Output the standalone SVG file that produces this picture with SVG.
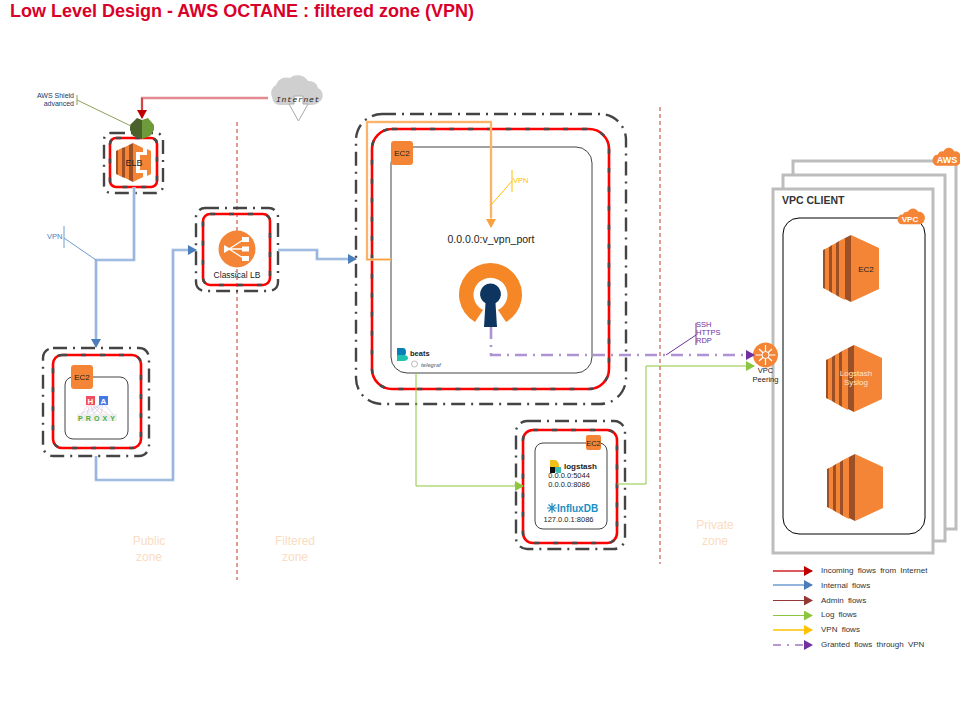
<svg xmlns="http://www.w3.org/2000/svg" xmlns:xlink="http://www.w3.org/1999/xlink" width="960" height="720" viewBox="0 0 960 720">
<style>
text{font-family:"Liberation Sans",Arial,sans-serif;fill:#222}
.outer{fill:none;stroke:#444;stroke-width:2.4;stroke-dasharray:14 6 2 6}
.red{fill:none;stroke:#f00;stroke-width:2.6}
.redd{fill:none;stroke:#4a4a4a;stroke-width:2.6;stroke-dasharray:5 14}
.inner{fill:#fff;stroke:#444;stroke-width:1}
.badge{fill:#f58536}
.c{text-anchor:middle}
.zone{font-size:12px;fill:#fbdcc0;text-anchor:middle}
.leg{font-size:8px;word-spacing:2px;fill:#333}
.sep{stroke:#c0392b;stroke-width:1;stroke-dasharray:4 3;fill:none}
.blue{fill:none;stroke:#7ea3d6;stroke-width:2}
.blue2{fill:none;stroke:#c4d5ec;stroke-width:3.2}
.vpc{fill:#fff;stroke:#bdbdbd;stroke-width:3}
</style>
<defs>
<marker id="aRed" markerUnits="userSpaceOnUse" markerWidth="10" markerHeight="10" refX="8" refY="5" orient="auto"><path d="M0 0L9 5L0 10z" fill="#c00000"/></marker>
<marker id="aBlue" markerUnits="userSpaceOnUse" markerWidth="10" markerHeight="10" refX="8" refY="5" orient="auto"><path d="M0 0L9 5L0 10z" fill="#4a7ebb"/></marker>
<marker id="aBrown" markerUnits="userSpaceOnUse" markerWidth="10" markerHeight="10" refX="8" refY="5" orient="auto"><path d="M0 0L9 5L0 10z" fill="#953735"/></marker>
<marker id="aGreen" markerUnits="userSpaceOnUse" markerWidth="10" markerHeight="10" refX="8" refY="5" orient="auto"><path d="M0 0L9 5L0 10z" fill="#8cc63f"/></marker>
<marker id="aOrange" markerUnits="userSpaceOnUse" markerWidth="10" markerHeight="10" refX="8" refY="5" orient="auto"><path d="M0 0L9 5L0 10z" fill="#f9a13c"/></marker>
<marker id="aYellow" markerUnits="userSpaceOnUse" markerWidth="10" markerHeight="10" refX="8" refY="5" orient="auto"><path d="M0 0L9 5L0 10z" fill="#ffc000"/></marker>
<marker id="aPurple" markerUnits="userSpaceOnUse" markerWidth="10" markerHeight="10" refX="8" refY="5" orient="auto"><path d="M0 0L9 5L0 10z" fill="#7030a0"/></marker>
<g id="ec2i">
<path d="M0 15L2 14V54L0 53z" fill="#9d5025"/><path d="M2 14L6 12V56L2 54z" fill="#f58536"/>
<path d="M6 12L9 10V58L6 56z" fill="#9d5025"/><path d="M9 10L13 8V60L9 58z" fill="#f58536"/>
<path d="M13 8L16 6V62L13 60z" fill="#9d5025"/><path d="M16 6L22 3V65L16 62z" fill="#f58536"/>
<path d="M22 3L28 0V67L22 64z" fill="#9d5025"/><path d="M28 0L56 13V54L28 67z" fill="#f58536"/>
</g>
<path id="cloud" d="M4 17a5 5 0 0 1 1-10a6 6 0 0 1 6-3a7 7 0 0 1 12 0a6 6 0 0 1 2 13z" fill="#f58536"/>
</defs>

<text x="10" y="17" font-size="18" font-weight="700" style="fill:#d9002a">Low Level Design - AWS  OCTANE : filtered zone (VPN)</text>

<g id="zones">
<path class="sep" d="M237 122V580"/>
<path class="sep" d="M660 107V564"/>
<text class="zone" x="149" y="545">Public</text><text class="zone" x="149" y="561">zone</text>
<text class="zone" x="295" y="545">Filtered</text><text class="zone" x="295" y="561">zone</text>
<text class="zone" x="715" y="529">Private</text><text class="zone" x="715" y="545">zone</text>
</g>

<g id="node-client">
<rect class="vpc" x="793" y="161" width="163" height="368"/>
<rect class="vpc" x="783" y="175" width="162" height="366"/>
<rect class="vpc" x="773" y="189" width="160" height="364"/>
<text x="782" y="204" font-size="10.5" font-weight="700" style="fill:#333">VPC CLIENT</text>
<rect x="783" y="218" width="142" height="316" rx="16" fill="#fff" stroke="#000" stroke-width="1"/>
<use xlink:href="#cloud" transform="translate(933 147) scale(.93 1.1)"/>
<text class="c" x="947" y="163" font-size="9" font-weight="700" style="fill:#fff">AWS</text>
<use xlink:href="#cloud" transform="translate(898 208) scale(.88 .95)"/>
<text class="c" x="910" y="222" font-size="8" font-weight="700" style="fill:#fff">VPC</text>
<use xlink:href="#ec2i" x="823" y="235"/>
<text class="c" x="866" y="272" font-size="8">EC2</text>
<use xlink:href="#ec2i" x="826" y="345"/>
<text class="c" x="856" y="376" font-size="8" style="fill:#fde3cc">Logstash</text>
<text class="c" x="856" y="385" font-size="8" style="fill:#fde3cc">Syslog</text>
<use xlink:href="#ec2i" x="827" y="454"/>
</g>

<g id="node-elb">
<rect class="outer" x="104" y="133" width="59" height="60" rx="7"/>
<rect class="red" x="110" y="138" width="47" height="49" rx="6"/>
<rect class="redd" x="110" y="138" width="47" height="49" rx="6"/>
<path d="M116 151L118 150V175L116 174z" fill="#9d5025"/>
<path d="M118 150L122 148V177L118 175z" fill="#f58536"/>
<path d="M122 148L125 147V178L122 177z" fill="#9d5025"/>
<path d="M125 147L129 145V180L125 178z" fill="#f58536"/>
<path d="M129 145L133 143V182L129 180z" fill="#9d5025"/>
<path d="M133 143L143 148V152L136 152V173L143 173V177L133 182z" fill="#f58536"/>
<path d="M140 155H147V149L151 151V174L147 176V170H140z" fill="#f58536"/>
<text class="c" x="134" y="166" font-size="9">ELB</text>
</g>

<g id="node-shield">
<path d="M130 125L137 118L142 120V139L133 136L130 130z" fill="#4b612c"/>
<path d="M142 120L148 118L154 125L154 130L150 136L142 139z" fill="#6d9a3b"/>
<text x="74" y="98" font-size="7" text-anchor="end" style="fill:#1f3864">AWS Shield</text>
<text x="74" y="106" font-size="7" text-anchor="end" style="fill:#1f3864">advanced</text>
<path d="M77 95V105M77 100L131 126" fill="none" stroke="#8aa356" stroke-width="1"/>
</g>

<g id="node-internet">
<path d="M272 97a9 9 0 0 1 4-12a11 11 0 0 1 14-7a12 12 0 0 1 18 3a9 9 0 0 1 10 7a8 8 0 0 1 1 14q-2 3-8 3H280q-7 0-8-8z" fill="#cfcfcf"/>
<path d="M289 104H294V96H303V104H308L298.500 121z" fill="#fff" stroke="#aaa" stroke-width="1"/>
<text class="c" x="298" y="102" font-size="8" font-style="italic" letter-spacing=".7" style="font-family:'Liberation Mono',monospace;fill:#222">Internet</text>
</g>

<g id="node-classical-lb">
<rect class="outer" x="196" y="208" width="82" height="83" rx="9"/>
<rect class="red" x="203" y="214" width="67" height="71" rx="7"/>
<rect class="redd" x="203" y="214" width="67" height="71" rx="7"/>
<circle cx="237" cy="249" r="18.500" fill="#f58536"/>
<path d="M229 249L243 240M229 249H243M229 249L243 258" stroke="#fff" stroke-width="1.300" fill="none"/>
<path d="M224 245L231 249L224 253z" fill="#fff"/>
<rect x="242" y="237" width="7" height="5" fill="#fff"/><rect x="242" y="246.500" width="7" height="5" fill="#fff"/><rect x="242" y="256" width="7" height="5" fill="#fff"/>
<text class="c" x="237" y="278" font-size="8.500">Classical LB</text>
</g>

<g id="node-haproxy">
<rect class="outer" x="43" y="348" width="106" height="108" rx="10"/>
<rect class="red" x="53" y="355" width="88" height="93" rx="9"/>
<rect class="redd" x="53" y="355" width="88" height="93" rx="9"/>
<rect class="inner" x="65" y="377" width="63" height="62" rx="8"/>
<rect class="badge" x="71" y="365" width="22" height="24" rx="3"/>
<text class="c" x="82" y="380" font-size="8">EC2</text>
<path d="M90 403L81 414M90 403L87 414M90 403L94 414M90 403L101 414M90 403L108 414" stroke="#f7b5bd" stroke-width=".6" fill="none"/>
<path d="M103 403L81 414M103 403L87 414M103 403L94 414M103 403L101 414M103 403L113 414" stroke="#b5c9f5" stroke-width=".6" fill="none"/>
<rect x="86" y="396" width="9" height="9" fill="#f24e62"/><rect x="99" y="396" width="9" height="9" fill="#4477e8"/>
<text class="c" x="90.500" y="404" font-size="8" font-weight="700" style="fill:#fff">H</text>
<text class="c" x="103.500" y="404" font-size="8" font-weight="700" style="fill:#fff">A</text>
<rect x="77" y="414" width="40" height="7" fill="#eee"/>
<text x="78" y="420.500" font-size="7" font-weight="700" letter-spacing="3.100" style="fill:#4caf3e">PROXY</text>
</g>

<g id="node-openvpn">
<rect class="outer" x="356" y="114" width="270" height="290" rx="26"/>
<rect class="red" x="372" y="129" width="237" height="260" rx="20"/>
<rect class="redd" x="372" y="129" width="237" height="260" rx="20"/>
<rect class="inner" x="391" y="147" width="201" height="226" rx="16"/>
<rect class="badge" x="391" y="141" width="22" height="24" rx="3"/>
<text class="c" x="402" y="156" font-size="8">EC2</text>
<text class="c" x="491" y="243" font-size="10.500">0.0.0.0:v_vpn_port</text>
<path d="M475 322A31.500 31.500 0 1 1 506 322L498 310A17 17 0 1 0 483 310z" fill="#f58727"/>
<path d="M490.500 283.500a10.500 10.500 0 0 1 5 19.700L497 327H484L485.500 303.200a10.500 10.500 0 0 1 5-19.700z" fill="#0e3460"/>
<path d="M397 348h6q3 0 3 4t-3 4h-6z" fill="#0a7fb5"/><path d="M397 355h6q5 0 5 3t-5 3h-6z" fill="#1fc1b0"/>
<text x="410" y="356" font-size="7.500" font-weight="700" style="fill:#222">beats</text>
<circle cx="414.500" cy="364" r="3" fill="none" stroke="#aaa" stroke-width=".8"/>
<text x="421" y="366.500" font-size="5.500" font-style="italic" font-weight="700" style="fill:#7a8a96">telegraf</text>
</g>

<g id="node-logstash">
<rect class="outer" x="516" y="421" width="109" height="128" rx="11"/>
<rect class="red" x="523" y="430" width="94" height="113" rx="10"/>
<rect class="redd" x="523" y="430" width="94" height="113" rx="10"/>
<rect class="inner" x="535" y="443" width="72" height="86" rx="8"/>
<rect class="badge" x="586" y="435" width="15" height="15" rx="2"/>
<text class="c" x="593.500" y="446" font-size="7.500">EC2</text>
<path d="M550 460h4q4 0 5 5v2h-9z" fill="#f0bf1a"/><path d="M550 467h5v6h-5z" fill="#111"/><path d="M555 467h6v6h-3q-3 0-3-3z" fill="#3ebeb0"/>
<text x="564" y="469" font-size="8" font-weight="700" style="fill:#222">logstash</text>
<text class="c" x="569" y="478" font-size="7.500">0.0.0.0:5044</text>
<text class="c" x="569" y="487" font-size="7.500">0.0.0.0:8086</text>
<path d="M547 508H557M552 503V513M548.500 504.500L555.500 511.500M555.500 504.500L548.500 511.500" stroke="#2a8fc1" stroke-width="1.200" fill="none"/>
<text x="557" y="512" font-size="10" font-weight="700" style="fill:#1a8fc4">InfluxDB</text>
<text class="c" x="568.500" y="522" font-size="7.500">127.0.0.1:8086</text>
</g>

<g id="node-vpc-peering">
<circle cx="765.500" cy="355" r="12.500" fill="#f58536"/>
<path d="M765.500 345V365M755.500 355H775.500M759 349L772 361M772 349L759 361" stroke="#fff" stroke-width="1.200" fill="none"/>
<circle cx="765.500" cy="355" r="3.500" fill="#f58536" stroke="#fff" stroke-width="1"/>
<text class="c" x="765.500" y="373" font-size="7.500">VPC</text>
<text class="c" x="765.500" y="382" font-size="7.500">Peering</text>
</g>

<g id="connectors" fill="none">
<path d="M268 98H142V116" stroke="#e28a8f" stroke-width="2.400"/>
<path d="M142 98V118" stroke="#c00000" stroke-width="1" marker-end="url(#aRed)"/>
<path class="blue2" d="M134 187V260H96V340"/>
<path d="M134 187V260H96V347" stroke="#7ea3d6" stroke-width="1.200" marker-end="url(#aBlue)"/>
<path class="blue2" d="M96 456V480H173V250H188"/>
<path d="M96 456V480H173V250H196" stroke="#7ea3d6" stroke-width="1.200" marker-end="url(#aBlue)"/>
<path class="blue2" d="M278 250H317V259H348"/>
<path d="M278 250H317V259H356" stroke="#7ea3d6" stroke-width="1.200" marker-end="url(#aBlue)"/>
<path d="M391 259.500H367V122H491V218" stroke="#fcc692" stroke-width="2.400"/>
<path d="M391 259.500H367V122H491V227" stroke="#f9a13c" stroke-width="1" marker-end="url(#aOrange)"/>
<path d="M491 327V355H754" stroke="#ae93d2" stroke-width="2.600" stroke-dasharray="12 6 2 6" marker-end="url(#aPurple)"/>
<path d="M416 373V486H523" stroke="#8cc63f" stroke-width="1" marker-end="url(#aGreen)"/>
<path d="M617 484H646V366H754" stroke="#8cc63f" stroke-width="1" marker-end="url(#aGreen)"/>
<path d="M64 226V248M64 238L96 260" stroke="#6f9bd1" stroke-width="1"/>
<path d="M512 170V192M512 181L491 205" stroke="#ffc000" stroke-width="1"/>
<path d="M696 323V345M696 335L666 355" stroke="#7030a0" stroke-width="1"/>
</g>
<g id="labels" font-size="7">
<text x="47" y="239" font-size="7.500" style="fill:#4a7ebb">VPN</text>
<text x="513" y="183" font-size="7.500" style="fill:#ffc000">VPN</text>
<text x="696" y="327" font-size="7.500" style="fill:#7030a0">SSH</text>
<text x="696" y="335" font-size="7.500" style="fill:#7030a0">HTTPS</text>
<text x="696" y="343" font-size="7.500" style="fill:#7030a0">RDP</text>
</g>

<g id="legend" fill="none">
<path d="M773 571H812" stroke="#cf2026" stroke-width="1.500" marker-end="url(#aRed)"/>
<path d="M773 585H812" stroke="#6f9bd1" stroke-width="1.500" marker-end="url(#aBlue)"/>
<path d="M773 600.500H812" stroke="#953735" stroke-width="1" marker-end="url(#aBrown)"/>
<path d="M773 615.500H812" stroke="#8cc63f" stroke-width="1" marker-end="url(#aGreen)"/>
<path d="M773 630H812" stroke="#ffc000" stroke-width="1.500" marker-end="url(#aYellow)"/>
<path d="M773 645H812" stroke="#7030a0" stroke-width="1.200" stroke-dasharray="8 6 2 6" marker-end="url(#aPurple)"/>
<text class="leg" x="821" y="573">Incoming flows from Internet</text>
<text class="leg" x="821" y="588">Internal flows</text>
<text class="leg" x="821" y="603">Admin flows</text>
<text class="leg" x="821" y="617">Log flows</text>
<text class="leg" x="821" y="632">VPN flows</text>
<text class="leg" x="821" y="647">Granted flows through VPN</text>
</g>
</svg>
